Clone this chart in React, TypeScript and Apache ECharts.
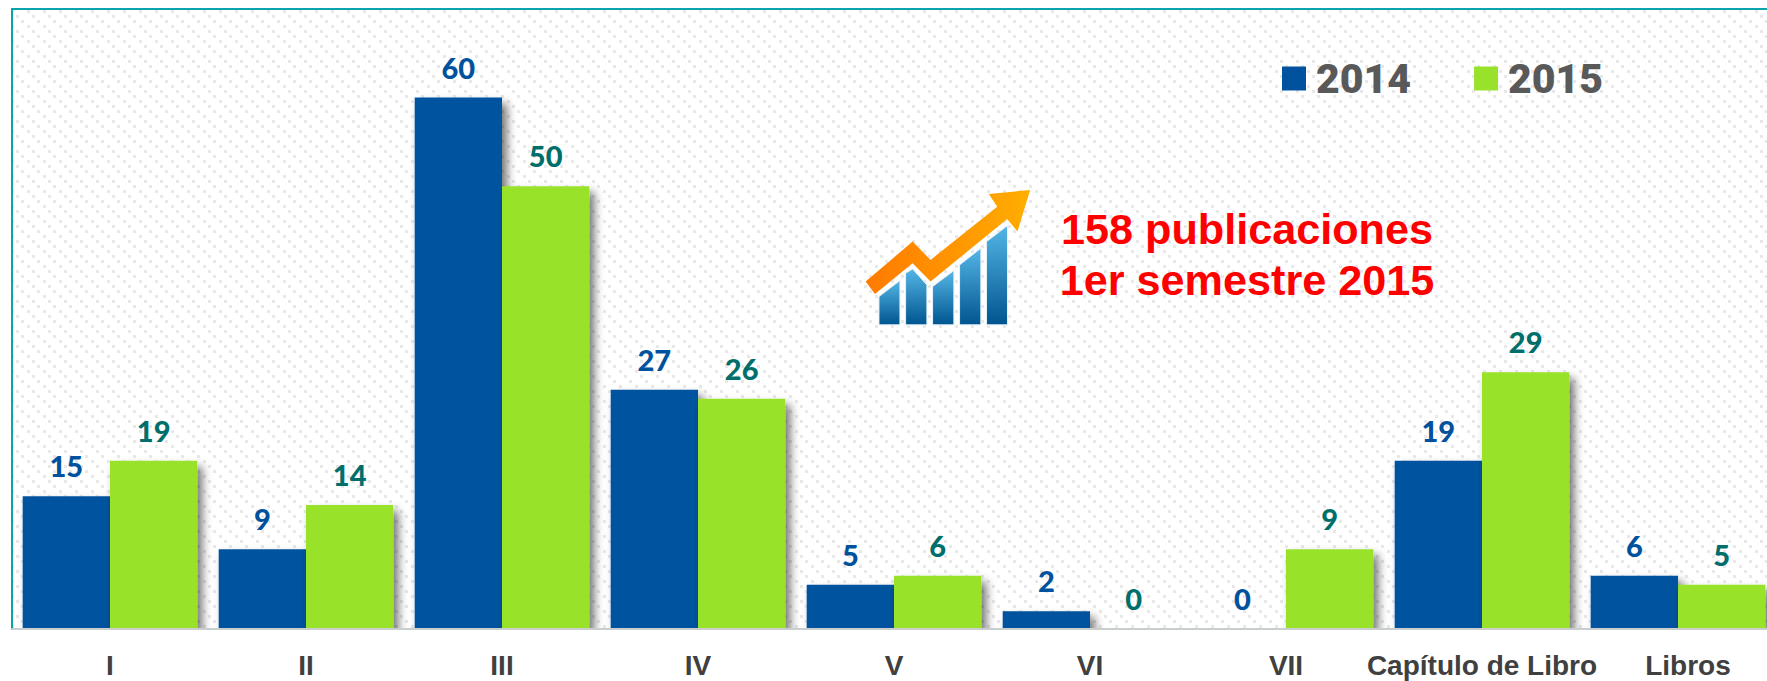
import React, { useEffect, useRef } from "react";
import * as echarts from "echarts";

const categories = ["I", "II", "III", "IV", "V", "VI", "VII", "Capítulo de Libro", "Libros"];
const values2014 = [15, 9, 60, 27, 5, 2, 0, 19, 6];
const values2015 = [19, 14, 50, 26, 6, 0, 9, 29, 5];
const noteText = "158 publicaciones\n1er semestre 2015";

const BLUE = "#01529E";
const GREEN = "#99E22C";
const TEAL = "#0AA4AC";
const FONT = "Lato";
const WIDE_FONT = "'Liberation Sans'";

function dotPattern() {
  const c = document.createElement("canvas");
  c.width = 16;
  c.height = 15;
  const ctx = c.getContext("2d")!;
  ctx.fillStyle = "#E8E8E8";
  ctx.fillRect(0, 0, 3, 3);
  ctx.fillRect(5, 5, 3, 3);
  ctx.fillRect(11, 10, 3, 3);
  return { image: c.toDataURL(), repeat: "repeat", imageWidth: 16, imageHeight: 15, x: 4, y: 3 };
}

const arrowPts = [[77,335],[218,215],[272,270],[472,110],[447,72],[571,60],[533,185],[502,147],[272,335],[218,280],[105,372]];
const iconBars = [
  [[117,380],[180,332],[180,465],[117,465]],
  [[197,310],[218,297],[261,345],[261,465],[197,465]],
  [[278,350],[342,302],[342,465],[278,465]],
  [[359,285],[423,235],[423,465],[359,465]],
  [[440,215],[503,167],[503,465],[440,465]],
];

export default function App() {
  const ref = useRef<HTMLDivElement>(null);
  useEffect(() => {
    document.body.style.margin = "0";
    const chart = echarts.init(ref.current!, null, { renderer: "svg" });
    const barGrad = new echarts.graphic.LinearGradient(0, 0, 0, 1, [
      { offset: 0, color: "#55B6E6" },
      { offset: 1, color: "#00558F" },
    ]);
    const arrowGrad = new echarts.graphic.LinearGradient(0, 0, 1, 0, [
      { offset: 0, color: "#FF7A00" },
      { offset: 1, color: "#FFAE00" },
    ]);
    const shadow = { shadowBlur: 10, shadowOffsetX: 5, shadowOffsetY: 6, shadowColor: "rgba(0,0,0,0.55)" };
    const seriesLabel = (color: string) => ({
      show: true,
      position: "top" as const,
      distance: 16,
      color,
      fontFamily: FONT,
      fontWeight: 900,
      fontSize: 29,
    });
    chart.setOption({
      animation: false,
      backgroundColor: "#ffffff",
      grid: {
        show: true,
        left: 12,
        top: 9,
        width: 1764,
        height: 620,
        borderColor: TEAL,
        borderWidth: 2,
        backgroundColor: dotPattern(),
        containLabel: false,
        outerBoundsMode: "none",
      },
      legend: {
        left: 1282,
        top: 58,
        padding: 0,
        itemWidth: 24,
        itemHeight: 24,
        itemGap: 63,
        icon: "rect",
        data: ["2014", "2015"],
        textStyle: { color: "#595959", fontFamily: "Roboto", fontWeight: 900, fontSize: 41, padding: [0, 0, 0, 5] },
      },
      xAxis: {
        type: "category",
        z: 5,
        data: categories.map((value, i) =>
          i === categories.length - 1 ? { value, textStyle: { padding: [0, 0, 0, 20] } } : value
        ),
        axisLine: { show: true, lineStyle: { color: "#C9CECE", width: 2 } },
        axisTick: { show: false },
        splitLine: { show: false },
        axisLabel: {
          interval: 0,
          margin: 22,
          color: "#404040",
          fontFamily: WIDE_FONT,
          fontWeight: "bold",
          fontSize: 28,
        },
      },
      yAxis: {
        type: "value",
        min: 0,
        max: 70,
        interval: 10,
        axisLine: { show: false },
        axisTick: { show: false },
        axisLabel: { show: false },
        splitLine: { show: false },
      },
      series: [
        {
          name: "2014",
          type: "bar",
          data: values2014,
          barWidth: 87.3,
          barGap: 0,
          itemStyle: { color: BLUE, ...shadow },
          label: seriesLabel(BLUE),
        },
        {
          name: "2015",
          type: "bar",
          data: values2015,
          barWidth: 87.3,
          barGap: 0,
          itemStyle: { color: GREEN, ...shadow },
          label: seriesLabel("#006F6C"),
        },
      ],
      graphic: [
        {
          type: "rect",
          z: 3,
          shape: { x: 0, y: 630, width: 1767, height: 51 },
          style: { fill: "#ffffff" },
        },
        {
          type: "text",
          x: 1247,
          y: 203,
          style: {
            text: noteText,
            fill: "#FF0000",
            font: `bold 43.2px ${WIDE_FONT}`,
            lineHeight: 51,
            align: "center",
          },
        },
        {
          type: "group",
          x: 840,
          y: 170,
          scaleX: 1 / 3,
          scaleY: 1 / 3,
          children: [
            ...iconBars.map((points) => ({
              type: "polygon",
              shape: { points },
              style: { fill: barGrad, stroke: "#E6F2FA", lineWidth: 3 },
            })),
            {
              type: "polygon",
              shape: { points: arrowPts },
              style: { fill: arrowGrad },
            },
          ],
        },
      ],
    });
    return () => chart.dispose();
  }, []);
  return <div ref={ref} style={{ position: "absolute", left: 0, top: 0, width: 1767, height: 681 }} />;
}
